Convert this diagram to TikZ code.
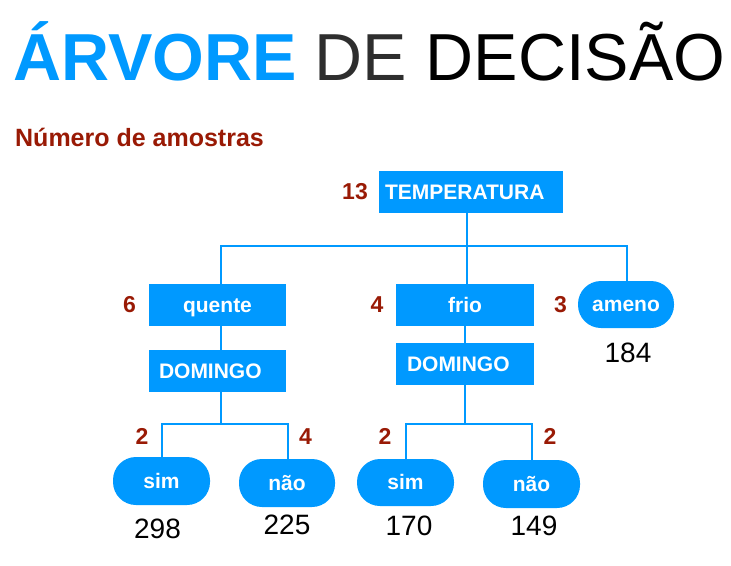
\documentclass[tikz,border=0pt]{standalone}
\usepackage{fontspec}
\setmainfont{Liberation Sans}
\definecolor{tblue}{HTML}{0099FF}
\definecolor{tred}{HTML}{991A05}
\definecolor{tgray}{HTML}{2E2E2E}
\begin{document}
\begin{tikzpicture}[x=1pt,y=-1pt,
  box/.style={rectangle, fill=tblue, text=white, font=\fontsize{21}{25}\selectfont\bfseries,
    minimum height=42, inner sep=0, text height=14, text depth=0},
  pill/.style={box, rounded corners=23, minimum height=48},
  cnt/.style={text=tred, font=\fontsize{23}{27}\selectfont\bfseries, inner sep=0, anchor=base},
  val/.style={text=black, font=\fontsize{28}{32}\selectfont, inner sep=0, anchor=base},
  conn/.style={draw=tblue, line width=2}]
\useasboundingbox (0,0) rectangle (731,565);

% title
\node[anchor=base west, inner sep=0, font=\fontsize{66.5}{70}\selectfont] (title) at (13,80)
  {\textcolor{tblue}{\bfseries ÁRVORE} \textcolor{tgray}{DE} \textcolor{black}{DECISÃO}};
\node[anchor=base west, inner sep=0, text=tred, font=\fontsize{25}{29}\selectfont\bfseries] (sub) at (15,146) {Número de amostras};

% nodes
\node[box, minimum width=184, text width=172, align=left] (temp) at (471,192) {TEMPERATURA};
\node[box, minimum width=137] (quente) at (217.5,305) {quente};
\node[box, minimum width=138] (frio) at (465,305) {frio};
\node[pill, minimum width=96, minimum height=47] (ameno) at (626,304.5) {ameno};
\node[box, minimum width=137, text width=117, align=left] (dom1) at (217.5,371) {DOMINGO};
\node[box, minimum width=138, text width=116, align=left] (dom2) at (465,364) {DOMINGO};
\node[pill, minimum width=97] (sim1) at (161.5,481) {sim};
\node[pill, minimum width=96] (nao1) at (287,483) {não};
\node[pill, minimum width=97, minimum height=47] (sim2) at (405.5,482.5) {sim};
\node[pill, minimum width=97] (nao2) at (531.5,484) {não};

% counts
\node[cnt] (c13) at (355,199) {13};
\node[cnt] (c6) at (129.5,312) {6};
\node[cnt] (c4a) at (377,312) {4};
\node[cnt] (c3) at (560.5,312) {3};
\node[cnt] (c2a) at (142,444) {2};
\node[cnt] (c4b) at (305.5,444) {4};
\node[cnt] (c2b) at (385,444) {2};
\node[cnt] (c2c) at (550,444) {2};

% values
\node[val] (v184) at (628,362) {184};
\node[val] (v298) at (157.5,538) {298};
\node[val] (v225) at (287,534) {225};
\node[val] (v170) at (409,535) {170};
\node[val] (v149) at (534,535) {149};

% connectors
\coordinate (bus) at (0,246);
\coordinate (busL) at (0,424);
\coordinate (busR) at (0,424);
\draw[conn] ([xshift=-4]temp.south) -- ([xshift=-4]temp.south |- frio.north);
\draw[conn] ([xshift=3.5]quente.north) |- ([xshift=1]bus -| ameno.north) -- ([xshift=1]ameno.north);
\draw[conn] ([xshift=3.5]quente.south) -- ([xshift=3.5]dom1.north);
\draw[conn] (frio.south) -- (dom2.north);
\draw[conn] ([xshift=3.5]dom1.south) -- ([xshift=3.5]dom1.south |- busL);
\draw[conn] ([xshift=0.5]sim1.north) |- ([xshift=1]busL -| nao1.north) -- ([xshift=1]nao1.north);
\draw[conn] (dom2.south) -- (dom2.south |- busR);
\draw[conn] ([xshift=0.5]sim2.north) |- ([xshift=0.5]busR -| nao2.north) -- ([xshift=0.5]nao2.north);
\end{tikzpicture}
\end{document}
